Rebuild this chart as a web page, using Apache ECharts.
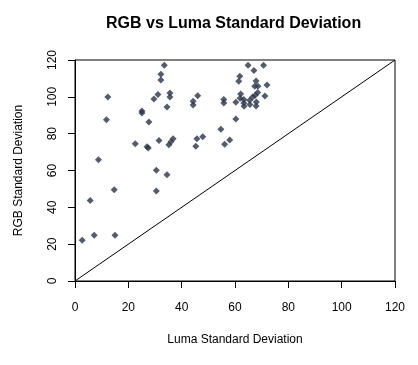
<!DOCTYPE html>
<html>
<head>
<meta charset="utf-8">
<script src="https://cdn.jsdelivr.net/npm/echarts@6/dist/echarts.min.js"></script>
<style>
html,body{margin:0;padding:0;background:#fff;}
#chart{width:418px;height:365px;}
</style>
</head>
<body>
<div id="chart"></div>
<script>
var lumaSD = [33.5,32.2,32.2,12.3,31.1,29.6,35.6,35.6,34.5,25.1,25.1,11.8,27.7,22.6,27.0,27.5,31.5,35.2,36.0,36.8,8.8,30.5,34.5,14.7,30.5,5.7,2.7,7.2,15.0,64.9,67.1,70.7,61.8,61.4,67.9,67.4,68.6,72.0,62.1,61.9,63.3,60.3,63.3,63.4,65.5,65.6,66.6,67.6,68.5,68.0,67.9,71.2,55.8,55.8,46.0,44.3,44.3,60.3,54.7,47.9,45.7,45.3,58.0,56.1];
var rgbSD  = [117.2,112.2,109.1,99.9,101.2,98.8,102.1,99.9,94.5,92.3,91.2,87.5,86.4,74.5,72.9,72.2,76.3,74.0,75.6,77.2,65.8,60.1,57.7,49.6,48.9,43.7,22.1,24.8,24.8,117.2,114.3,117.2,111.2,108.4,108.6,105.8,105.8,106.4,101.5,99.2,98.6,97.0,96.6,94.9,98.1,95.9,99.9,100.8,102.4,97.2,95.0,100.4,98.6,96.6,100.6,97.6,95.6,88.0,82.4,78.3,77.2,73.2,76.5,74.3];
var refLine = [0, 120];
var axisTicks = [0, 20, 40, 60, 80, 100, 120];

var pts = lumaSD.map(function(v, i){ return [v, rgbSD[i]]; });
var font = '"Liberation Sans", Arial, sans-serif';
var chart = echarts.init(document.getElementById('chart'), null, {renderer:'canvas'});
chart.setOption({
  animation: false,
  title: {
    text: 'RGB vs Luma Standard Deviation',
    left: 106, top: 16, padding: 0,
    textStyle: {fontFamily: font, fontWeight: 'bold', fontSize: 16, color: '#000'}
  },
  grid: {left: 75, right: 23, top: 60, bottom: 84, show: true, borderColor: '#000', borderWidth: 1},
  xAxis: {
    type: 'value', min: axisTicks[0], max: axisTicks[axisTicks.length-1], interval: 20,
    name: 'Luma Standard Deviation', nameLocation: 'middle', nameGap: 53,
    nameTextStyle: {fontFamily: font, fontSize: 12, color: '#000'},
    axisLine: {show: true, lineStyle: {color: '#000', width: 1}},
    axisTick: {show: true, length: 7, lineStyle: {color: '#000'}},
    axisLabel: {margin: 21, fontFamily: font, fontSize: 12, color: '#000'},
    splitLine: {show: false}
  },
  yAxis: {
    type: 'value', min: axisTicks[0], max: axisTicks[axisTicks.length-1], interval: 20,
    name: 'RGB Standard Deviation', nameLocation: 'middle', nameGap: 50,
    nameTextStyle: {fontFamily: font, fontSize: 12, color: '#000'},
    axisLine: {show: true, lineStyle: {color: '#000', width: 1}},
    axisTick: {show: true, length: 7, lineStyle: {color: '#000'}},
    axisLabel: {margin: 16, rotate: 90, fontFamily: font, fontSize: 12, color: '#000'},
    splitLine: {show: false}
  },
  series: [
    {
      type: 'line', data: [[refLine[0], refLine[0]], [refLine[1], refLine[1]]],
      symbol: 'none', lineStyle: {color: '#000', width: 1}, silent: true, z: 1
    },
    {
      type: 'scatter', data: pts, symbol: 'diamond', symbolSize: 7,
      itemStyle: {color: '#2A3548'}, z: 2
    }
  ]
});
</script>
</body>
</html>
